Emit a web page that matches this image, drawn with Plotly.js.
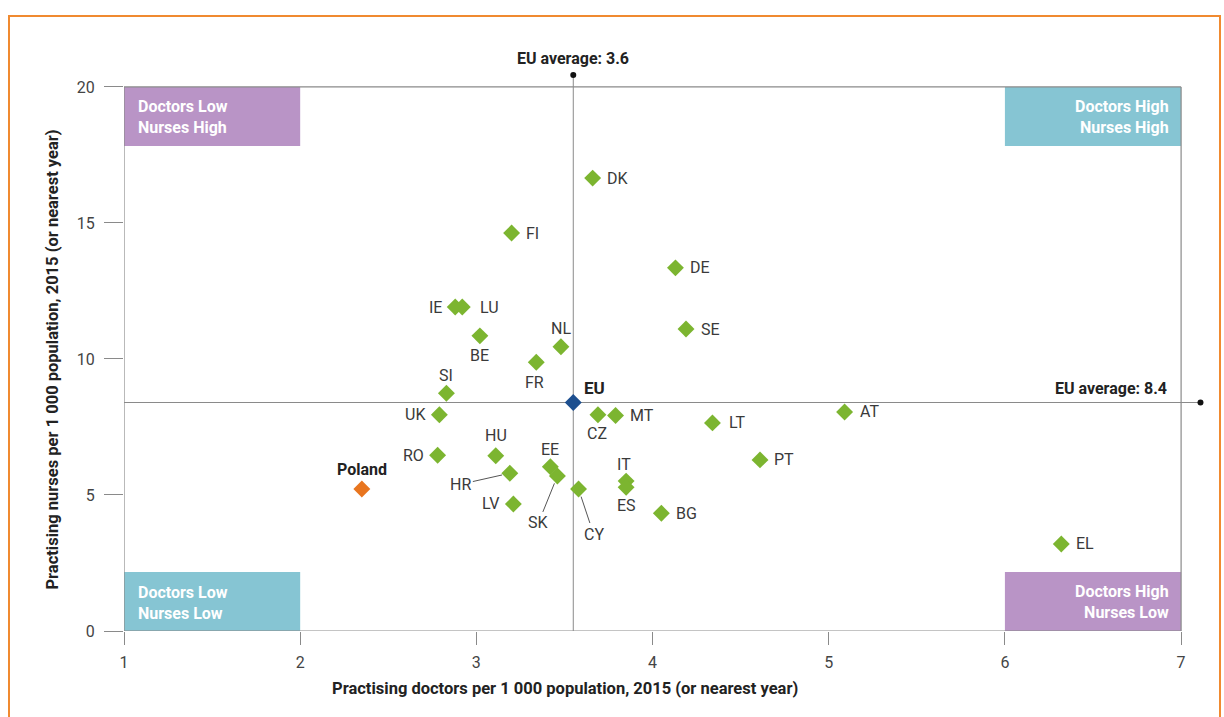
<!DOCTYPE html>
<html>
<head>
<meta charset="utf-8">
<script src="https://cdn.plot.ly/plotly-3.0.1.min.js"></script>
<style>
  html, body { margin: 0; padding: 0; background: #fff; }
  #chart { width: 1224px; height: 717px; position: absolute; left: 0; top: 0; }
  #frame { position: absolute; left: 8px; top: 15px; width: 1209px; height: 720px;
           border: 2px solid #f08a30; pointer-events: none; }
</style>
</head>
<body>
<div id="chart"></div>
<div id="frame"></div>
<script>
// ---------------- DATA ----------------
const countries = ['DK','FI','DE','IE','LU','SE','BE','NL','FR','SI','UK','CZ','MT','AT','LT','RO','HU','PT','EE','SK','HR','IT','ES','CY','LV','BG','EL'];
const doctors   = [3.66,3.20,4.13,2.88,2.92,4.19,3.02,3.48,3.34,2.83,2.79,3.69,3.79,5.09,4.34,2.78,3.11,4.61,3.42,3.46,3.19,3.85,3.85,3.58,3.21,4.05,6.32];
const nurses    = [16.65,14.63,13.35,11.91,11.91,11.10,10.85,10.45,9.88,8.74,7.95,7.95,7.92,8.05,7.65,6.46,6.44,6.29,6.04,5.70,5.80,5.51,5.28,5.22,4.67,4.33,3.20];

const polandName = 'Poland';
const polandDoctors = 2.35;
const polandNurses = 5.22;

const euName = 'EU';
const euDoctors = 3.55;
const euNurses = 8.4;

const euAvgDoctorsLabel = 'EU average: 3.6';
const euAvgNursesLabel = 'EU average: 8.4';

const xTicks = [1,2,3,4,5,6,7];
const yTicks = [0,5,10,15,20];

const xTitle = 'Practising doctors per 1 000 population, 2015 (or nearest year)';
const yTitle = 'Practising nurses per 1 000 population, 2015 (or nearest year)';

const quadrantLabels = {
  tl: 'Doctors Low<br>Nurses High',
  tr: 'Doctors High<br>Nurses High',
  bl: 'Doctors Low<br>Nurses Low',
  br: 'Doctors High<br>Nurses Low'
};

// ---------------- STYLE ----------------
const FONT = 'Roboto, "Liberation Sans Narrow", "DejaVu Sans Condensed", sans-serif';
const GREEN = '#7cb530';
const ORANGE = '#e8751f';
const BLUE = '#1d4f8f';
const PURPLE = '#b994c6';
const CYAN = '#86c5d3';
const AXIS = '#8a8a8a';
const TEXT = '#3a3a3a';

const X0 = 1, X1 = 7, Y0 = 0, Y1 = 20;
const X_MAX = 7.13, Y_MAX = 20.55;   // room for the EU average line ends
const LINE_END_X = 7.11, LINE_END_Y = 20.44;
const BOX_H = 2.17;

// label placement: [xanchor, xshift, yshift] in pixels relative to the marker
const LABEL_POS = {
  DK:['left',12,0], FI:['left',12,0], DE:['left',13,0], IE:['right',-11,0], LU:['left',16,0],
  SE:['left',13,0], BE:['center',0,-20], NL:['center',0,18], FR:['center',-2,-20], SI:['center',0,18],
  UK:['right',-11,0], CZ:['center',-1,-19], MT:['left',12,0], AT:['left',13,1], LT:['left',15,0],
  RO:['right',-12,0], HU:['center',0,20], PT:['left',12,0], EE:['center',0,17], IT:['center',-2,17],
  ES:['center',0,-18], LV:['right',-12,0], BG:['left',13,0], EL:['left',13,0]
};
// leader-line labels: [ax, ay]
const LEADER_POS = { SK:[-19,47], HR:[-49,11], CY:[15,45] };

// ---------------- TRACES ----------------
const traces = [
  { x: doctors, y: nurses, type: 'scatter', mode: 'markers', text: countries, hoverinfo: 'text+x+y',
    marker: { symbol: 'diamond', size: 13, color: GREEN }, cliponaxis: false, showlegend: false },
  { x: [polandDoctors], y: [polandNurses], type: 'scatter', mode: 'markers',
    marker: { symbol: 'diamond', size: 13, color: ORANGE }, cliponaxis: false, showlegend: false },
  { x: [euDoctors], y: [euNurses], type: 'scatter', mode: 'markers',
    marker: { symbol: 'diamond', size: 13, color: BLUE }, cliponaxis: false, showlegend: false },
  { x: [euDoctors, LINE_END_X], y: [LINE_END_Y, euNurses], type: 'scatter', mode: 'markers',
    marker: { symbol: 'circle', size: 6, color: '#111' }, cliponaxis: false, showlegend: false, hoverinfo: 'skip' }
];

// ---------------- SHAPES ----------------
const line = (x0, y0, x1, y1, w) => ({ type: 'line', xref: 'x', yref: 'y', x0, y0, x1, y1,
  line: { color: AXIS, width: w || 1 }, layer: 'below' });
const rect = (x0, y0, x1, y1, c) => ({ type: 'rect', xref: 'x', yref: 'y', x0, y0, x1, y1,
  fillcolor: c, line: { width: 0 }, layer: 'below' });

const shapes = [
  rect(X0, Y1 - BOX_H, 2, Y1, PURPLE),
  rect(6, Y1 - BOX_H, X1, Y1, CYAN),
  rect(X0, Y0, 2, BOX_H, CYAN),
  rect(6, Y0, X1, BOX_H, PURPLE),
  line(X0, Y0, X1, Y0, 1.2),
  line(X0, Y1, X1, Y1, 1.2),
  line(X0, Y0, X0, Y1, 1.2),
  line(X1, Y0, X1, Y1, 1.2),
  line(euDoctors, Y0, euDoctors, LINE_END_Y, 1),
  line(X0, euNurses, LINE_END_X, euNurses, 1)
];

// ---------------- ANNOTATIONS ----------------
const annotations = [];
countries.forEach((c, i) => {
  if (LABEL_POS[c]) {
    const p = LABEL_POS[c];
    annotations.push({ x: doctors[i], y: nurses[i], text: c, showarrow: false,
      xanchor: p[0], yanchor: 'middle', xshift: p[1], yshift: p[2],
      font: { family: FONT, size: 16, color: TEXT } });
  } else if (LEADER_POS[c]) {
    const p = LEADER_POS[c];
    annotations.push({ x: doctors[i], y: nurses[i], text: c, showarrow: true,
      arrowhead: 0, arrowwidth: 1, arrowcolor: '#555', ax: p[0], ay: p[1], standoff: 8,
      font: { family: FONT, size: 16, color: TEXT } });
  }
});
annotations.push(
  { x: polandDoctors, y: polandNurses, text: '<b>' + polandName + '</b>', showarrow: false,
    yshift: 20, font: { family: FONT, size: 16, color: '#222' } },
  { x: euDoctors, y: euNurses, text: '<b>' + euName + '</b>', showarrow: false,
    xanchor: 'left', xshift: 9, yshift: 15, font: { family: FONT, size: 17, color: '#222' } },
  { x: euDoctors, y: LINE_END_Y, text: '<b>' + euAvgDoctorsLabel + '</b>', showarrow: false,
    yanchor: 'bottom', yshift: 5, font: { family: FONT, size: 16, color: '#222' } },
  { x: 6.93, y: euNurses, text: '<b>' + euAvgNursesLabel + '</b>', showarrow: false,
    xanchor: 'right', yanchor: 'bottom', yshift: 3, font: { family: FONT, size: 16, color: '#222' } },
  { x: X0, y: Y1, text: '<b>' + quadrantLabels.tl + '</b>', showarrow: false, align: 'left',
    xanchor: 'left', yanchor: 'top', xshift: 12, yshift: -8, font: { family: FONT, size: 16, color: '#fff' } },
  { x: X1, y: Y1, text: '<b>' + quadrantLabels.tr + '</b>', showarrow: false, align: 'right',
    xanchor: 'right', yanchor: 'top', xshift: -10, yshift: -8, font: { family: FONT, size: 16, color: '#fff' } },
  { x: X0, y: BOX_H, text: '<b>' + quadrantLabels.bl + '</b>', showarrow: false, align: 'left',
    xanchor: 'left', yanchor: 'top', xshift: 12, yshift: -9, font: { family: FONT, size: 16, color: '#fff' } },
  { x: X1, y: BOX_H, text: '<b>' + quadrantLabels.br + '</b>', showarrow: false, align: 'right',
    xanchor: 'right', yanchor: 'top', xshift: -10, yshift: -8, font: { family: FONT, size: 16, color: '#fff' } },
  { xref: 'paper', yref: 'paper', x: 0.408, y: -0.103, text: '<b>' + xTitle + '</b>', showarrow: false,
    xanchor: 'center', yanchor: 'middle', font: { family: FONT, size: 16.5, color: '#222' } },
  { xref: 'paper', yref: 'paper', x: -0.066, y: 0.485, text: '<b>' + yTitle + '</b>', showarrow: false,
    textangle: -90, xanchor: 'center', yanchor: 'middle', font: { family: FONT, size: 16.5, color: '#222' } }
);

const layout = {
  width: 1224, height: 717,
  margin: { l: 124, r: 20, t: 72, b: 86 },
  paper_bgcolor: '#fff', plot_bgcolor: '#fff',
  showlegend: false,
  font: { family: FONT, color: TEXT },
  xaxis: { range: [X0, X_MAX], tickvals: xTicks, ticktext: xTicks.map(String),
    showgrid: false, zeroline: false, showline: false,
    ticks: 'outside', ticklen: 13, tickcolor: AXIS, tickwidth: 1, ticklabelstandoff: 4,
    tickfont: { family: FONT, size: 16, color: '#444' } },
  yaxis: { range: [Y0, Y_MAX], tickvals: yTicks, ticktext: yTicks.map(String),
    showgrid: false, zeroline: false, showline: false,
    ticks: 'outside', ticklen: 19, tickcolor: AXIS, tickwidth: 1, ticklabelstandoff: 6,
    tickfont: { family: FONT, size: 16, color: '#444' } },
  shapes, annotations
};

Plotly.newPlot('chart', traces, layout, { displayModeBar: false, staticPlot: true });
</script>
</body>
</html>
